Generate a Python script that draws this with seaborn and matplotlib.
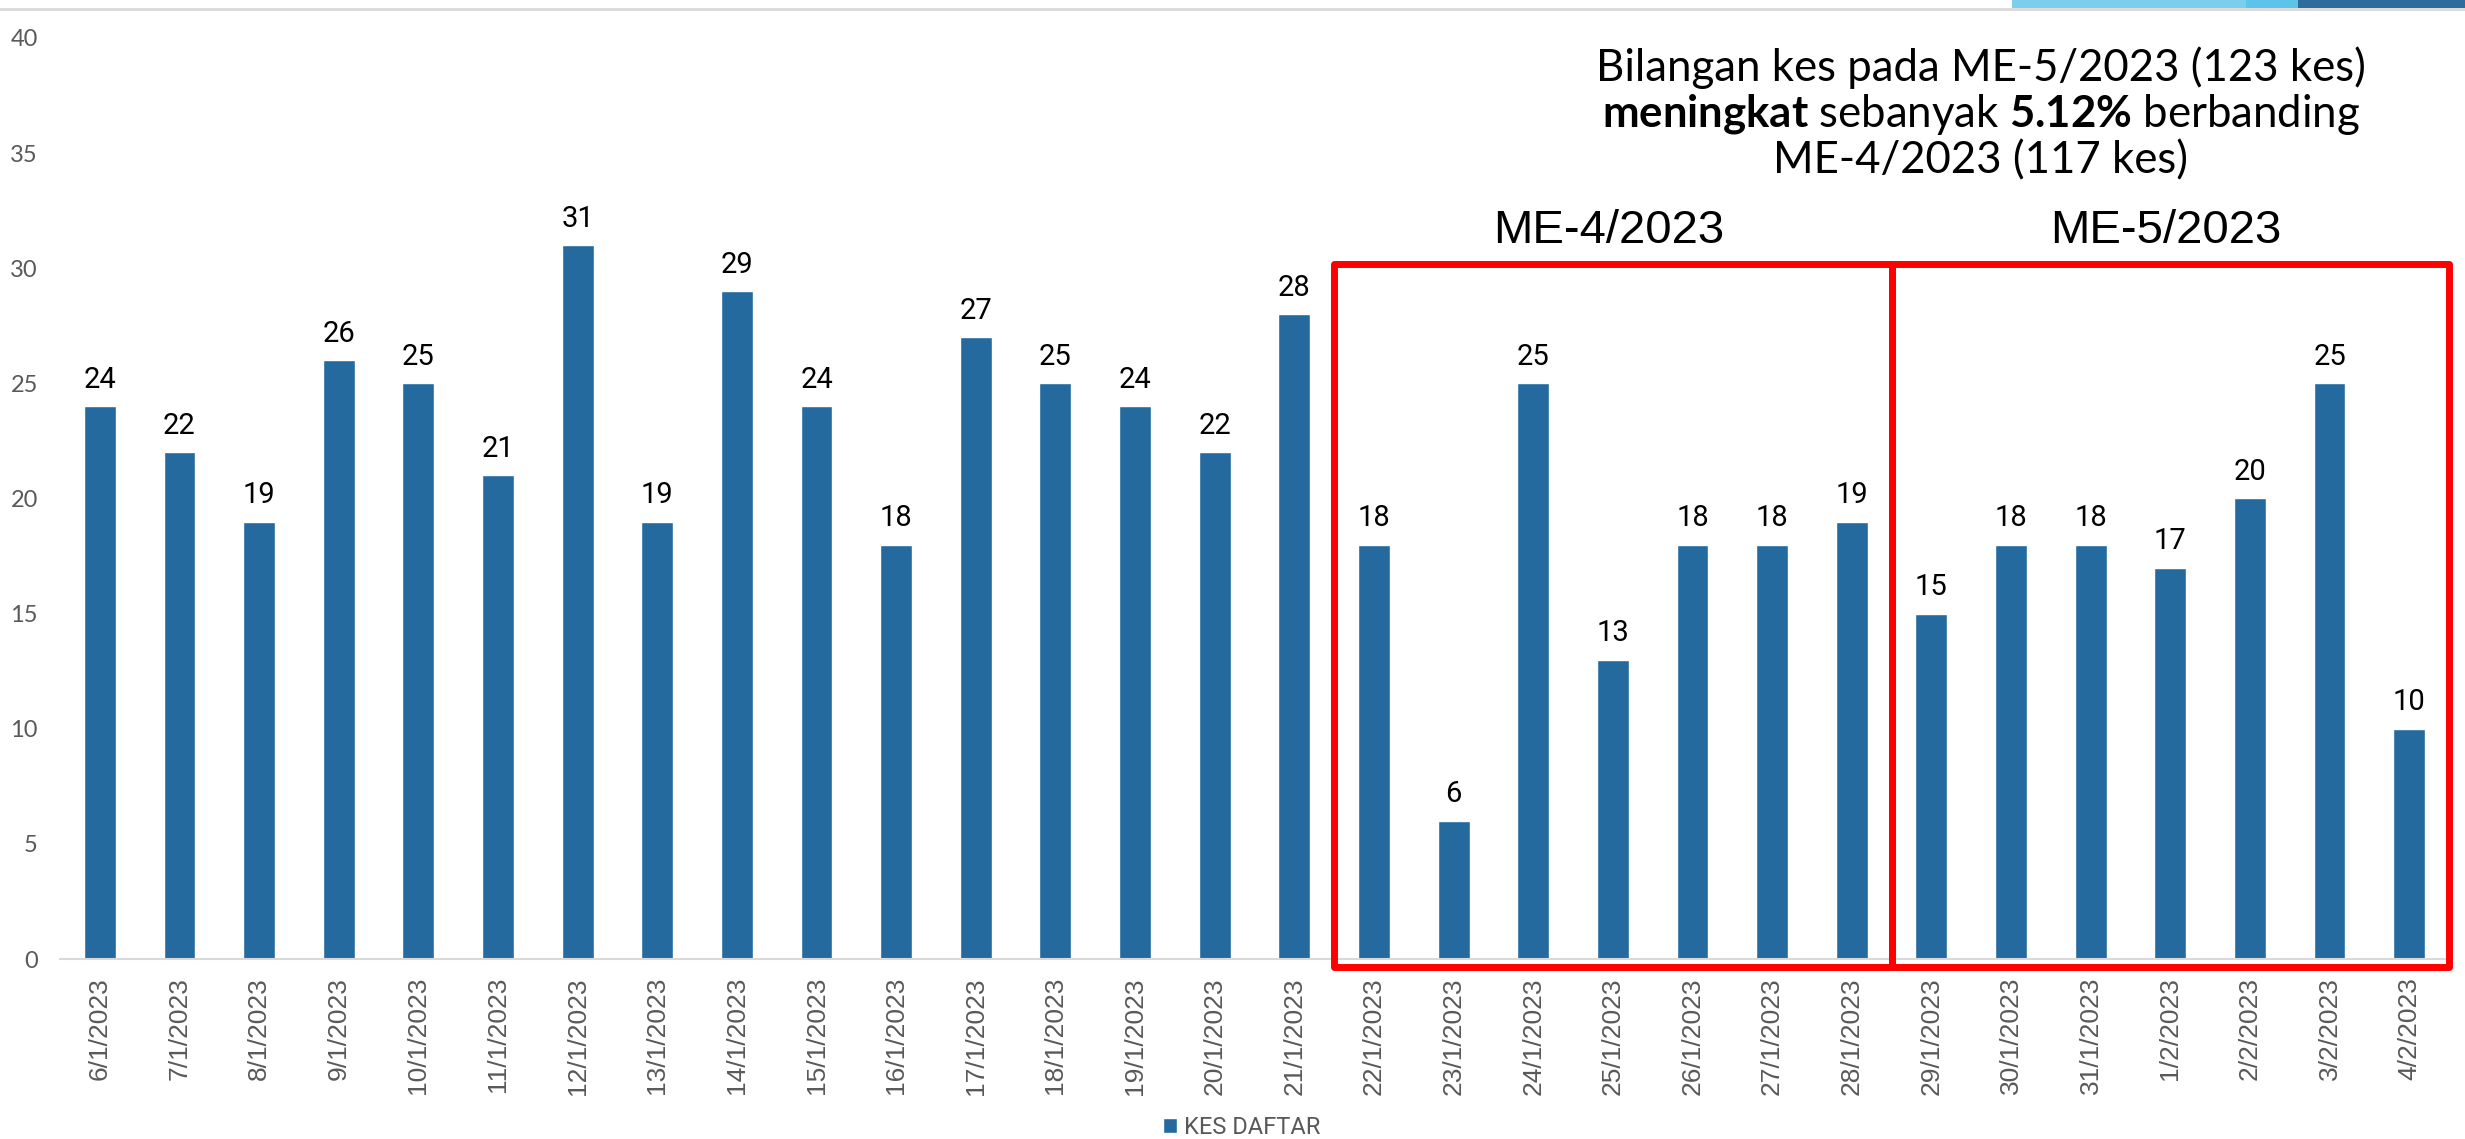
import numpy as np
import pandas as pd
import matplotlib
matplotlib.use("Agg")
import matplotlib.pyplot as plt
import seaborn as sns
from matplotlib.patches import Rectangle, Patch
from matplotlib.lines import Line2D
from matplotlib import font_manager as fm

# ---------------- data ----------------
dates = ["6/1/2023", "7/1/2023", "8/1/2023", "9/1/2023", "10/1/2023", "11/1/2023",
         "12/1/2023", "13/1/2023", "14/1/2023", "15/1/2023", "16/1/2023", "17/1/2023",
         "18/1/2023", "19/1/2023", "20/1/2023", "21/1/2023",
         "22/1/2023", "23/1/2023", "24/1/2023", "25/1/2023", "26/1/2023", "27/1/2023", "28/1/2023",
         "29/1/2023", "30/1/2023", "31/1/2023", "1/2/2023", "2/2/2023", "3/2/2023", "4/2/2023"]
cases = [24, 22, 19, 26, 25, 21, 31, 19, 29, 24, 18, 27, 25, 24, 22, 28,
         18, 6, 25, 13, 18, 18, 19,
         15, 18, 18, 17, 20, 25, 10]
legend_label = "KES DAFTAR"
group_labels = ["ME-4/2023", "ME-5/2023"]
group_first_dates = ["22/1/2023", "29/1/2023"]
group_sizes = [7, 7]
y_ticks = [0, 5, 10, 15, 20, 25, 30, 35, 40]
summary_lines = [
    "Bilangan kes pada ME-5/2023 (123 kes)",
    r"$\mathbf{meningkat}$ sebanyak $\mathbf{5.12\%}$ berbanding",
    "ME-4/2023 (117 kes)",
]

# ---------------- style ----------------
BAR = "#246A9F"
GREY = "#595959"
AXIS = "#D9D9D9"
RED = "#FF0000"

sns.set_theme(style="white")
names = {f.name for f in fm.fontManager.ttflist}


def pick(*cands):
    for c in cands:
        if c in names:
            return c
    return "DejaVu Sans"


NARROW = pick("Liberation Sans Narrow", "Roboto", "Liberation Sans")
ARIAL = pick("Liberation Sans", "Roboto", "DejaVu Sans")
CALIBRI = pick("Lato", "Open Sans", "Noto Sans")

plt.rcParams["font.family"] = [ARIAL, "DejaVu Sans"]
plt.rcParams["mathtext.fontset"] = "custom"
plt.rcParams["mathtext.rm"] = CALIBRI
plt.rcParams["mathtext.bf"] = CALIBRI + ":bold"
plt.rcParams["mathtext.it"] = CALIBRI + ":italic"

W, H = 2465, 1139
fig = plt.figure(figsize=(W / 100, H / 100), dpi=100)
fig.patch.set_facecolor("white")

x0, x1 = 60, 2449
y_top, y_zero = 38, 959
ax = fig.add_axes([x0 / W, (H - y_zero) / H, (x1 - x0) / W, (y_zero - y_top) / H])

df = pd.DataFrame({"Tarikh": dates, "Kes": cases})
sns.barplot(data=df, x="Tarikh", y="Kes", color=BAR, saturation=1, width=0.4,
            errorbar=None, ax=ax)

ax.set_xlim(-0.5, len(dates) - 0.5)
ax.set_ylim(0, 40)
ax.set_yticks(y_ticks)
ax.set_xlabel("")
ax.set_ylabel("")

for s in ["left", "top", "right"]:
    ax.spines[s].set_visible(False)
ax.spines["bottom"].set_color(AXIS)
ax.spines["bottom"].set_linewidth(1.5)

ax.set_xticks(np.arange(-0.5, len(dates), 1.0), minor=True)
ax.tick_params(axis="x", which="major", length=0, pad=13, labelsize=19,
               labelcolor=GREY, labelrotation=90)
ax.tick_params(axis="x", which="minor", length=5, width=1.5, color=AXIS)
ax.tick_params(axis="y", length=0, pad=16, labelsize=17, labelcolor=GREY)
for t in ax.get_xticklabels():
    t.set_fontfamily(ARIAL)
for t in ax.get_yticklabels():
    t.set_fontfamily(CALIBRI)

ax.bar_label(ax.containers[0], labels=[str(v) for v in cases], padding=9,
             fontsize=21, family=NARROW, color="black")

# red boxes around month groups
for lab, first, n in zip(group_labels, group_first_dates, group_sizes):
    start = dates.index(first)
    rect = Rectangle((start - 0.5, -0.33), n, 30.53, fill=False, edgecolor=RED,
                     linewidth=5, clip_on=False, joinstyle="round", zorder=5)
    ax.add_patch(rect)
    ax.text(start - 0.55 + n / 2, 31.6, lab, ha="center", va="center",
            fontsize=34, family=ARIAL, color="black")

# summary text
fig.text(1981 / W, 1 - 114 / H, "\n".join(summary_lines), ha="center", va="center",
         multialignment="center", fontsize=31.5, family=CALIBRI, color="black",
         linespacing=1.1)

# legend
fig.legend(handles=[Patch(facecolor=BAR, label=legend_label)], loc="center",
           bbox_to_anchor=(1242 / W, 1 - 1127 / H), frameon=False,
           handlelength=0.6, handleheight=0.6, handletextpad=0.3,
           prop={"family": NARROW, "size": 17}, labelcolor=GREY)

# slide decorations at the top
fig.add_artist(Line2D([0, 1], [1 - 9 / H, 1 - 9 / H], color="#D9D9D9", lw=2,
                      transform=fig.transFigure))
for xa, xb, col in [(2012, 2246, "#7BCFEC"), (2246, 2298, "#5EC3E8"), (2298, 2465, "#2E6C9E")]:
    fig.add_artist(Rectangle((xa / W, 1 - 8 / H), (xb - xa) / W, 8 / H, color=col,
                             transform=fig.transFigure, lw=0))

fig.savefig("out.png", dpi=100, facecolor="white")
